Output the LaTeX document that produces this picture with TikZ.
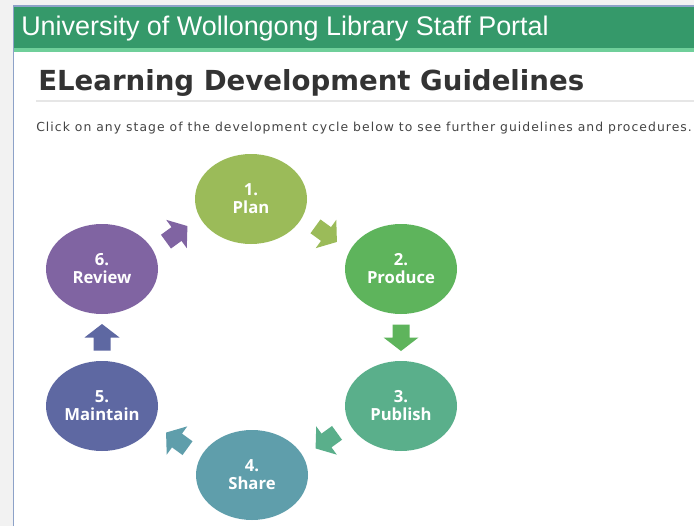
\documentclass[tikz,border=0pt]{standalone}
\usepackage{fontspec}
\setmainfont{Liberation Sans}
\newfontfamily\verdanafont{DejaVu Sans}
\newfontfamily\introfont[LetterSpace=8.3]{DejaVu Sans}
\newfontfamily\stagefont{Open Sans}
\usetikzlibrary{shapes.geometric,calc}
\definecolor{pagegray}{HTML}{F2F2F2}
\definecolor{frameblue}{HTML}{8DA2C8}
\definecolor{headgreen}{HTML}{35996A}
\definecolor{stripgreen}{HTML}{6FCF9A}
\definecolor{rulegray}{HTML}{E6E6E6}
\definecolor{titlegray}{HTML}{333333}
\definecolor{subgray}{HTML}{444444}
\definecolor{cplan}{HTML}{9BBB59}
\definecolor{cproduce}{HTML}{5EB45C}
\definecolor{cpublish}{HTML}{5AAF8B}
\definecolor{cshare}{HTML}{5F9EAB}
\definecolor{cmaintain}{HTML}{5E68A2}
\definecolor{creview}{HTML}{8064A2}
\tikzset{
  stage/.style={ellipse, inner sep=0pt, minimum width=84pt, minimum height=67.5pt,
    text=white, align=center, font=\stagefont\bfseries\fontsize{12.5}{13.5}\selectfont},
  blockarr/.pic={\fill[pic actions] (13.5,0) -- (0,17.5) -- (0,8.5) -- (-13,8.5) -- (-13,-8.5) -- (0,-8.5) -- (0,-17.5) -- cycle;}
}
\begin{document}
\begin{tikzpicture}[x=0.75pt,y=-0.75pt]
\useasboundingbox (0,0) rectangle (694,526);
% page
\fill[pagegray] (0,0) rectangle (694,526);
\fill[white] (13,6) rectangle (694,526);
\fill[headgreen] (13,6) rectangle (694,48);
\fill[stripgreen] (13,48) rectangle (694,52);
\draw[frameblue, line width=1.2pt] (13.5,526) -- (13.5,6) -- (694,6);
\node[anchor=base west, inner sep=0pt, text=white, font=\fontsize{20.2}{22}\selectfont] (portal) at (21,35) {University of Wollongong Library Staff Portal};
\node[anchor=base west, inner sep=0pt, text=titlegray, font=\verdanafont\bfseries\fontsize{20.7}{23}\selectfont] (title) at (38,90) {ELearning Development Guidelines};
\draw[rulegray, line width=1.5pt] (36,101) -- (694,101);
\node[anchor=base west, inner sep=0pt, text=subgray, font=\introfont\fontsize{9.3}{11}\selectfont] (intro) at (36,131) {Click on any stage of the development cycle below to see further guidelines and procedures.};
% stages
\node[stage, fill=cplan] (plan) at (251,199) {1.\\Plan};
\node[stage, fill=cproduce] (produce) at (401,269) {2.\\Produce};
\node[stage, fill=cpublish] (publish) at (401,406) {3.\\Publish};
\node[stage, fill=cshare] (share) at (252,475) {4.\\Share};
\node[stage, fill=cmaintain] (maintain) at (102,406) {5.\\Maintain};
\node[stage, fill=creview] (review) at (102,269) {6.\\Review};
% arrows
\pic[fill=cplan, rotate=-36] at ($(plan)!0.5!(produce)$) {blockarr};
\pic[fill=cproduce, rotate=-90] at ($(produce)!0.5!(publish)$) {blockarr};
\pic[fill=cpublish, rotate=-144] at ($(publish)!0.5!(share)$) {blockarr};
\pic[fill=cshare, rotate=144] at ($(share)!0.5!(maintain)$) {blockarr};
\pic[fill=cmaintain, rotate=90] at ($(maintain)!0.5!(review)$) {blockarr};
\pic[fill=creview, rotate=36] at ($(review)!0.5!(plan)$) {blockarr};
\end{tikzpicture}
\end{document}
